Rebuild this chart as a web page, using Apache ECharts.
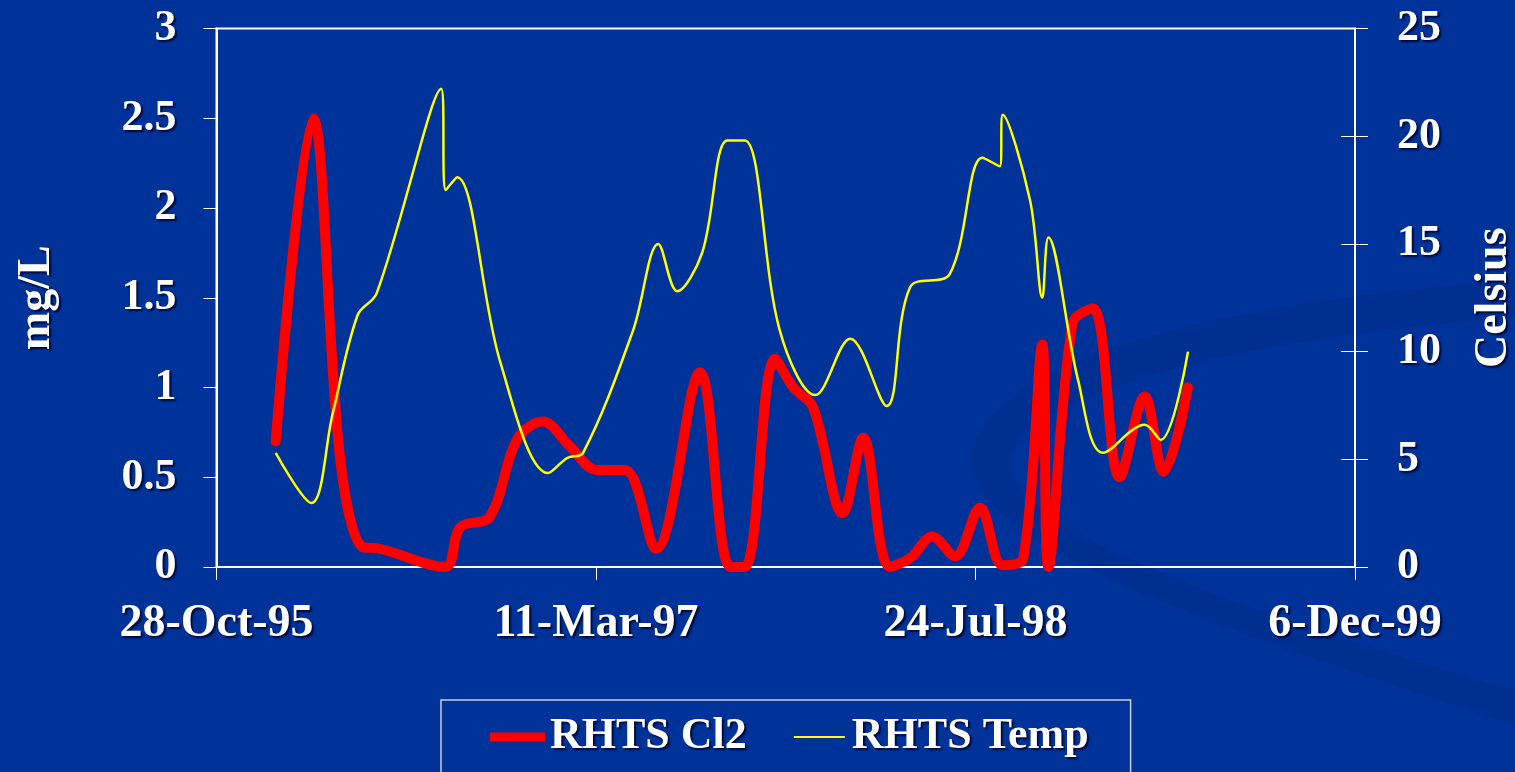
<!DOCTYPE html>
<html><head><meta charset="utf-8">
<script src="https://cdn.jsdelivr.net/npm/echarts@6/dist/echarts.min.js"></script>
<style>html,body{margin:0;padding:0;background:#003399;}#c{width:1515px;height:772px;}</style>
</head><body><div id="c"></div>
<script>
// Dates are Excel serial day numbers (35000 = 28-Oct-95)
const xTicks = { min: 35000, max: 36500, step: 500 };
const clDays = [35078,35127,35163,35193,35211,35301,35321,35360,35396,35430,35466,35501,35538,35579,35637,35677,35696,35736,35760,35786,35825,35852,35887,35914,35943,35973,36006,36036,36063,36088,36096,36128,36155,36190,36223,36248,36280];
const clVals = [0.70,2.50,0.60,0.11,0.105,0.0,0.22,0.28,0.71,0.81,0.67,0.54,0.54,0.10,1.085,0,0,1.16,1.0,0.89,0.30,0.72,0,0.05,0.17,0.06,0.33,0.01,0.05,1.24,0,1.36,1.44,0.50,0.95,0.53,1.0];
const tDays = [35078,35125,35153,35186,35211,35296,35302,35317,35374,35437,35462,35483,35549,35582,35607,35640,35673,35696,35742,35789,35835,35883,35914,35966,36009,36032,36036,36072,36088,36096,36135,36168,36223,36244,36280];
const tVals = [5.3,2.97,7.1,11.7,12.7,22.2,17.5,18.1,9.5,4.36,5.06,5.3,11.0,15.0,12.8,14.6,19.8,19.8,11.0,7.98,10.6,7.47,13.0,13.6,19.0,18.6,21.0,17.0,12.5,15.3,8.7,5.3,6.6,5.9,10.0];
const seriesNames = ['RHTS Cl2', 'RHTS Temp'];
const leftAxis = { name: 'mg/L', min: 0, max: 3, step: 0.5 };
const rightAxis = { name: 'Celsius', min: 0, max: 25, step: 5 };

const months = ['Jan','Feb','Mar','Apr','May','Jun','Jul','Aug','Sep','Oct','Nov','Dec'];
function fmtDate(v){
  const d = new Date(Date.UTC(1899,11,30) + Math.round(v)*86400000);
  return d.getUTCDate() + '-' + months[d.getUTCMonth()] + '-' + String(d.getUTCFullYear()).slice(2);
}
// decorative background swoosh (slide template), built from bezier segments
function bez(p0, p1, p2, p3, n){
  const out = [];
  for (let i = 0; i <= n; i++){
    const t = i / n, u = 1 - t;
    out.push([
      u*u*u*p0[0] + 3*u*u*t*p1[0] + 3*u*t*t*p2[0] + t*t*t*p3[0],
      u*u*u*p0[1] + 3*u*u*t*p1[1] + 3*u*t*t*p2[1] + t*t*t*p3[1]
    ]);
  }
  return out;
}
const swoosh = [].concat(
  bez([1515,280],[1250,300],[1000,350],[972,450],30),
  bez([972,450],[955,530],[1150,610],[1515,725],30),
  [[1515,690]],
  bez([1515,690],[1250,615],[1008,530],[1010,462],30),
  bez([1010,462],[1015,395],[1250,335],[1515,318],30)
);

const FONT = "'Liberation Serif','Times New Roman',serif";
const shadow = { textShadowColor: 'rgba(0,0,40,0.85)', textShadowOffsetX: 2, textShadowOffsetY: 2, textShadowBlur: 2 };
const txt = Object.assign({ color: '#fff', fontFamily: FONT, fontWeight: 'bold', fontSize: 44 }, shadow);
const nameTxt = Object.assign({}, txt, { fontSize: 46 });
const xTxt = Object.assign({}, txt, { fontSize: 46 });

const chart = echarts.init(document.getElementById('c'));
chart.setOption({
  backgroundColor: '#003399',
  animation: false,
  graphic: [{
    type: 'polygon', z: -10, silent: true,
    shape: { points: swoosh },
    style: { fill: 'rgba(0,25,100,0.13)' }
  }],
  grid: { left: 216.5, right: 160, top: 28.5, bottom: 205, show: true, borderColor: '#fff', borderWidth: 2, outerBoundsMode: 'none' },
  xAxis: {
    type: 'value', min: xTicks.min, max: xTicks.max, interval: xTicks.step,
    axisLine: { lineStyle: { color: '#fff', width: 2 } },
    axisTick: { show: true, length: 13, lineStyle: { color: '#fff', width: 1 } },
    splitLine: { show: false },
    axisLabel: Object.assign({ margin: 34, formatter: fmtDate }, xTxt)
  },
  yAxis: [
    {
      type: 'value', position: 'left', min: leftAxis.min, max: leftAxis.max, interval: leftAxis.step,
      name: leftAxis.name, nameLocation: 'middle', nameRotate: 90, nameGap: 156, nameTextStyle: nameTxt,
      axisLine: { show: true, lineStyle: { color: '#fff', width: 2 } },
      axisTick: { show: true, length: 13, lineStyle: { color: '#fff', width: 1 } },
      splitLine: { show: false },
      axisLabel: Object.assign({ margin: 40 }, txt)
    },
    {
      type: 'value', position: 'right', min: rightAxis.min, max: rightAxis.max, interval: rightAxis.step,
      name: rightAxis.name, nameLocation: 'middle', nameRotate: 90, nameGap: 116, nameTextStyle: nameTxt,
      axisLine: { show: true, lineStyle: { color: '#fff', width: 2 } },
      axisTick: { show: true, length: 13, lineStyle: { color: '#fff', width: 1 } },
      splitLine: { show: false },
      axisLabel: Object.assign({ margin: 42 }, txt)
    },
    {
      type: 'value', position: 'right', min: rightAxis.min, max: rightAxis.max, interval: rightAxis.step,
      axisLine: { show: false },
      axisTick: { show: true, inside: true, length: 14, lineStyle: { color: '#fff', width: 1 } },
      axisLabel: { show: false }, splitLine: { show: false }
    }
  ],
  legend: {
    left: 441, top: 700, padding: [15, 42, 40, 49],
    backgroundColor: 'rgba(0,0,0,0)', borderColor: '#c8cde0', borderWidth: 1.5,
    itemWidth: 55, itemHeight: 14, itemGap: 45,
    textStyle: txt,
    data: [
      { name: seriesNames[0], icon: 'path://M0,0 M55,14 M0,2.5 L55,2.5 L55,11.5 L0,11.5 Z' },
      { name: seriesNames[1], icon: 'path://M0,0 M55,14 M2,6 L53,6 L53,8 L2,8 Z' }
    ]
  },
  series: [
    {
      name: seriesNames[0], type: 'line', yAxisIndex: 0, smooth: 0.35, symbol: 'none',
      lineStyle: { color: '#ff0000', width: 10, cap: 'round', join: 'round' },
      itemStyle: { color: '#ff0000' },
      data: clDays.map((d, i) => [d, clVals[i]]), z: 3
    },
    {
      name: seriesNames[1], type: 'line', yAxisIndex: 1, smooth: 0.35, symbol: 'none',
      lineStyle: { color: '#ffff00', width: 2.5 },
      itemStyle: { color: '#ffff00' },
      data: tDays.map((d, i) => [d, tVals[i]]), z: 4
    }
  ]
});
</script></body></html>
